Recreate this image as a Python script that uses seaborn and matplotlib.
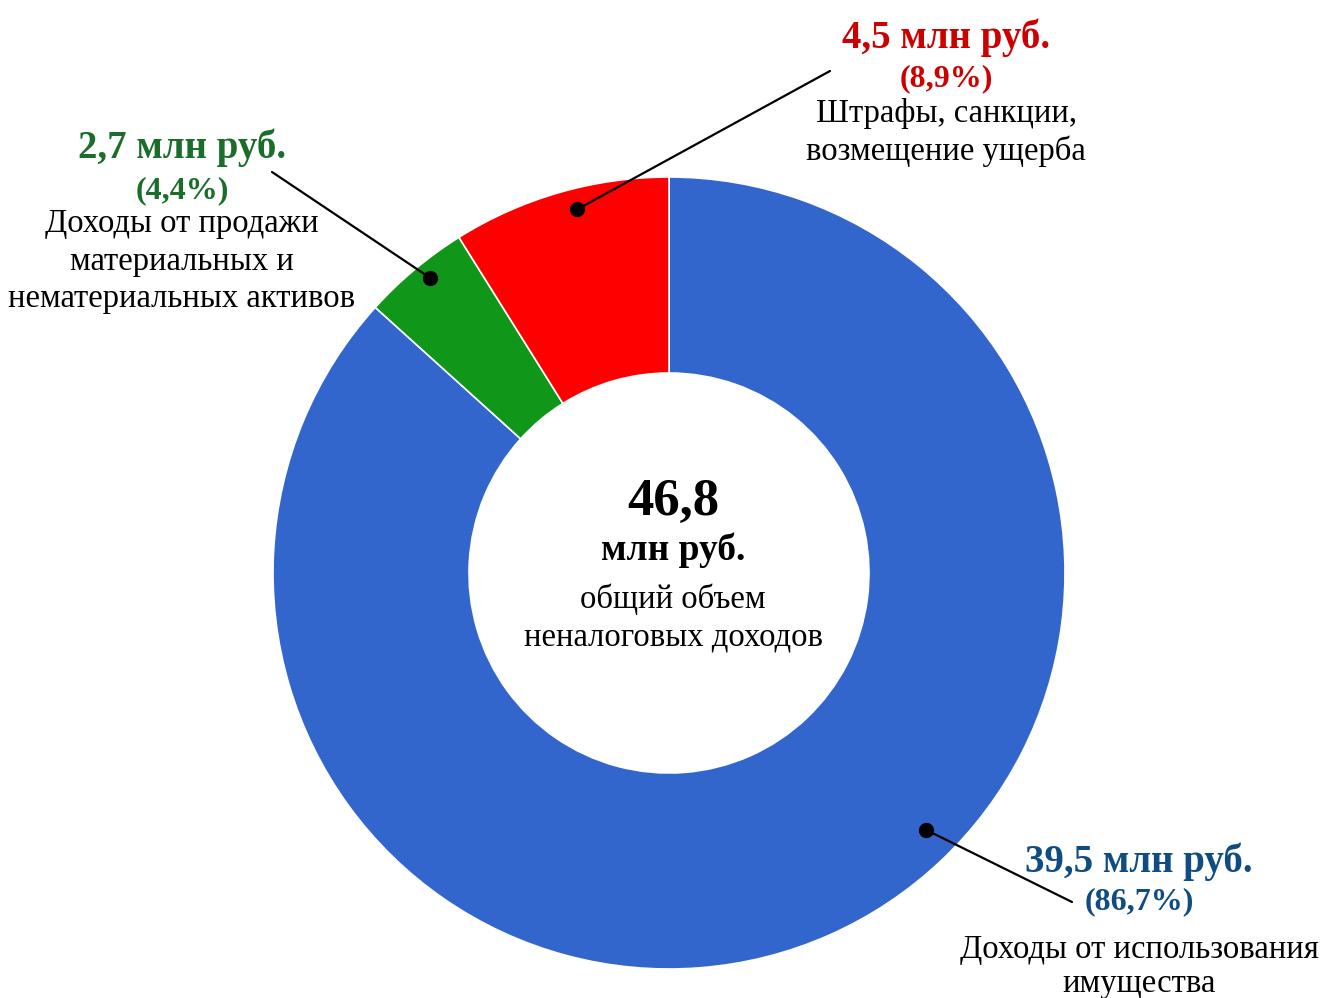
import numpy as np
import matplotlib
matplotlib.use("Agg")
import matplotlib.pyplot as plt
import seaborn as sns

# data
categories = ["Доходы от использования\nимущества",
              "Доходы от продажи\nматериальных и\nнематериальных активов",
              "Штрафы, санкции,\nвозмещение ущерба"]
amounts = ["39,5", "2,7", "4,5"]
shares = [86.7, 4.4, 8.9]
total = "46,8"

slice_colors = ["#3366CC", "#109618", "#FF0000"]
text_colors = ["#0F4C81", "#1B6E2A", "#CC0000"]

W, H = 1323, 998
CX, CY = 669, 573
R_OUT, R_IN = 396, 200


def py(y):
    """pixel row from top -> data y"""
    return H - y


sns.set_theme(style="white")
plt.rcParams["font.family"] = ["Liberation Serif", "DejaVu Serif"]
plt.rcParams["text.color"] = "black"

fig = plt.figure(figsize=(W / 100, H / 100), dpi=100)
ax = fig.add_axes([0, 0, 1, 1])

wedges, _ = ax.pie(
    shares,
    colors=slice_colors,
    startangle=90,
    counterclock=False,
    radius=R_OUT,
    center=(CX, py(CY)),
    wedgeprops=dict(width=R_OUT - R_IN, edgecolor="white", linewidth=1.2),
)
ax.set_xlim(0, W)
ax.set_ylim(0, H)
ax.set_aspect("equal")
ax.axis("off")

# label blocks: x centre, baselines; leader line: dot angle/radius, line end
label_x = [1139, 182, 946]
head_base = [872, 158, 48]
pct_base = [909, 198, 86]
desc_base = [958, 232, 122]
dot_angle = [-45, 129, 104.2]
dot_r = [363, 380, 375]
line_end = [(1072, 902), (272, 172), (830, 71)]

for i in range(len(shares)):
    c = text_colors[i]
    x = label_x[i]
    ax.text(x, py(head_base[i]), f"{amounts[i]} млн руб.", color=c,
            fontsize=28, fontweight="bold", ha="center", va="baseline")
    ax.text(x, py(pct_base[i]), f"({shares[i]:.1f}%)".replace(".", ","), color=c,
            fontsize=23, fontweight="bold", ha="center", va="baseline")
    lines = categories[i].split("\n")
    for j, line in enumerate(lines):
        yb = desc_base[i] + j * 37.5
        ax.text(x, py(min(yb, 992)), line, color="black",
                fontsize=23.5, ha="center", va="baseline")

    a = np.radians(dot_angle[i])
    dx = CX + dot_r[i] * np.cos(a)
    dy = py(CY) + dot_r[i] * np.sin(a)
    ex, ey = line_end[i]
    ax.plot([dx, ex], [dy, py(ey)], color="black", lw=1.6, solid_capstyle="round")
    ax.plot(dx, dy, "o", color="black", markersize=10)

# centre text
ax.text(673, py(515), total, fontsize=38, fontweight="bold", ha="center", va="baseline")
ax.text(673, py(560), "млн руб.", fontsize=27, fontweight="bold", ha="center", va="baseline")
ax.text(673, py(608), "общий объем", fontsize=23.5, ha="center", va="baseline")
ax.text(673, py(645), "неналоговых доходов", fontsize=23.5, ha="center", va="baseline")

fig.savefig("out.png", dpi=100)
